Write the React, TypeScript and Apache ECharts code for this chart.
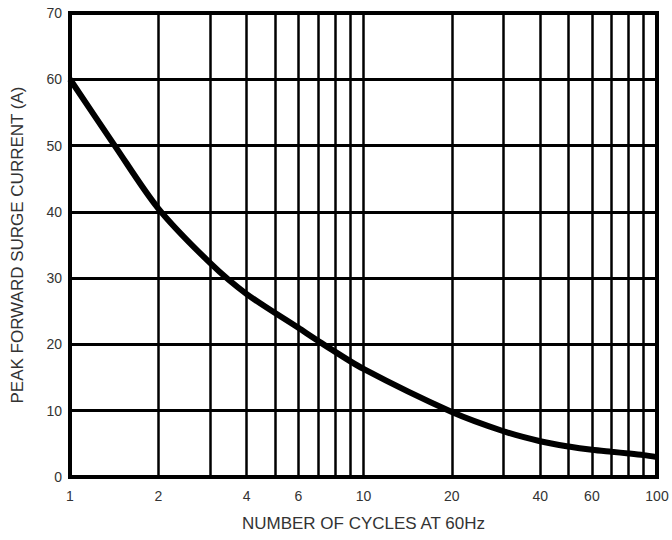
import React, { useEffect, useRef } from "react";
import * as echarts from "echarts";

const cycles = [1, 1.42, 2, 3, 4, 6, 7.2, 10, 20, 30, 40, 50, 60, 70, 80, 90, 100];
const current = [60, 50, 40.5, 32.3, 27.6, 22.5, 20.2, 16.3, 9.8, 6.9, 5.4, 4.6, 4.1, 3.8, 3.55, 3.3, 3.0];
const xGridValues = [1, 2, 3, 4, 5, 6, 7, 8, 9, 10, 20, 30, 40, 50, 60, 70, 80, 90, 100];
const xLabelValues = [1, 2, 4, 6, 10, 20, 40, 60, 100];
const yMin = 0;
const yMax = 70;
const yInterval = 10;

export default function App() {
  const ref = useRef<HTMLDivElement>(null);
  useEffect(() => {
    if (!ref.current) return;
    const chart = echarts.init(ref.current, undefined, { renderer: "svg" });
    const font = "Liberation Sans, Arial, sans-serif";
    chart.setOption({
      animation: false,
      backgroundColor: "#fff",
      grid: {
        left: 70,
        right: 15,
        top: 13,
        bottom: 63,
        show: true,
        borderColor: "#000",
        borderWidth: 4,
        backgroundColor: "transparent",
        z: 3,
      },
      xAxis: {
        type: "log",
        logBase: 10,
        min: 1,
        max: 100,
        name: "NUMBER OF CYCLES AT 60Hz",
        nameLocation: "middle",
        nameGap: 38,
        nameTextStyle: { fontFamily: font, fontSize: 17, color: "#333" },
        axisLine: { show: false },
        axisTick: { show: false, customValues: xGridValues },
        axisLabel: {
          customValues: xLabelValues,
          fontFamily: font,
          fontSize: 14,
          color: "#333",
          margin: 12,
        },
        splitLine: { show: true, lineStyle: { color: "#000", width: 2.5 } },
        minorSplitLine: { show: false },
      },
      yAxis: {
        type: "value",
        min: yMin,
        max: yMax,
        interval: yInterval,
        name: "PEAK FORWARD SURGE CURRENT (A)",
        nameLocation: "middle",
        nameGap: 44,
        nameTextStyle: { fontFamily: font, fontSize: 17, color: "#333" },
        axisLine: { show: false },
        axisTick: { show: false },
        axisLabel: { fontFamily: font, fontSize: 14, color: "#333", margin: 8 },
        splitLine: { show: true, lineStyle: { color: "#000", width: 3 } },
      },
      series: [
        {
          type: "line",
          data: cycles.map((c, i) => [c, current[i]]),
          smooth: 0.3,
          symbol: "none",
          lineStyle: { color: "#000", width: 6 },
          z: 4,
        },
      ],
    });
    return () => chart.dispose();
  }, []);
  return <div ref={ref} style={{ width: 672, height: 540, position: "absolute", left: 0, top: 0 }} />;
}
